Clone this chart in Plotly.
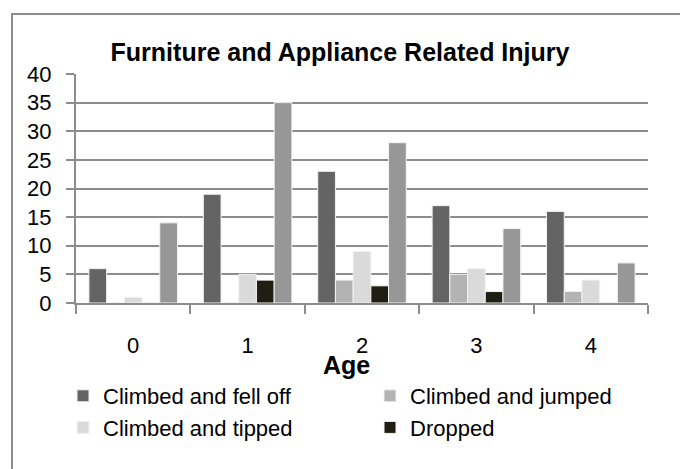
import plotly.graph_objects as go

ages = ["0", "1", "2", "3", "4"]
fell_off = [6, 19, 23, 17, 16]
jumped = [0, 0, 4, 5, 2]
tipped = [1, 5, 9, 6, 4]
dropped = [0, 4, 3, 2, 0]
other = [14, 35, 28, 13, 7]

series_names = ["Climbed and fell off", "Climbed and jumped", "Climbed and tipped", "Dropped", "Other"]
series_values = [fell_off, jumped, tipped, dropped, other]
series_colors = ["#646464", "#b3b3b3", "#dadada", "#201e12", "#979797"]
series_legend = [True, True, True, True, False]

y_ticks = [0, 5, 10, 15, 20, 25, 30, 35, 40]

FONT = "Liberation Sans Narrow, Arial Narrow, Liberation Sans, Arial, sans-serif"

fig = go.Figure()
for name, vals, col, leg in zip(series_names, series_values, series_colors, series_legend):
    fig.add_trace(go.Bar(
        x=ages, y=vals, name=name, showlegend=leg,
        marker=dict(color=col, line=dict(color="#f2f2f2", width=1)),
    ))

W, H = 680, 469
L, R, T, B = 76, 32, 74, 166
pw = W - L - R
ph = H - T - B

fig.update_layout(
    width=W, height=H,
    margin=dict(l=L, r=R, t=T, b=B, autoexpand=False),
    paper_bgcolor="white", plot_bgcolor="white",
    barmode="group", bargap=0.226, bargroupgap=0,
    font=dict(family=FONT, size=22, color="black"),
    title=dict(text="<b>Furniture and Appliance Related Injury</b>",
               x=0.5, xanchor="center", y=1 - 52 / H, yanchor="middle",
               yref="container", font=dict(family=FONT, size=25, color="black")),
    xaxis=dict(type="category", tickson="boundaries", ticks="outside", ticklen=9,
               tickwidth=2, tickcolor="#8c8c8c", showline=True, linecolor="#8c8c8c",
               linewidth=2, showgrid=False, ticklabelstandoff=22,
               tickfont=dict(family=FONT, size=22, color="black")),
    yaxis=dict(range=[0, 40], tickvals=y_ticks, ticks="outside", ticklen=8,
               tickwidth=2, tickcolor="#8c8c8c", showline=True, linecolor="#8c8c8c",
               linewidth=2, showgrid=True, gridcolor="#8c8c8c", gridwidth=2,
               zeroline=False, ticklabelstandoff=10,
               tickfont=dict(family=FONT, size=22, color="black")),
    legend=dict(orientation="h", x=(83 - 20 - L) / pw, xanchor="left",
                y=-(375 - T - ph) / ph, yanchor="top",
                entrywidth=262, entrywidthmode="pixels",
                font=dict(family=FONT, size=22, color="black"),
                bgcolor="rgba(0,0,0,0)", traceorder="normal"),
    annotations=[dict(text="<b>Age</b>", xref="paper", yref="paper",
                      x=(346 - L) / pw, y=-(365 - T - ph) / ph,
                      xanchor="center", yanchor="middle", showarrow=False,
                      font=dict(family=FONT, size=25, color="black"))],
    shapes=[dict(type="rect", xref="paper", yref="paper",
                 x0=(12 - L) / pw, x1=(720 - L) / pw,
                 y0=-(520 - T - ph) / ph, y1=1 + (T - 14) / ph,
                 line=dict(color="#8c8c8c", width=2), layer="below")],
)

fig.write_html("out.html", config={"displayModeBar": False},
               post_script="document.body.style.margin='0';document.body.style.overflow='hidden';")
